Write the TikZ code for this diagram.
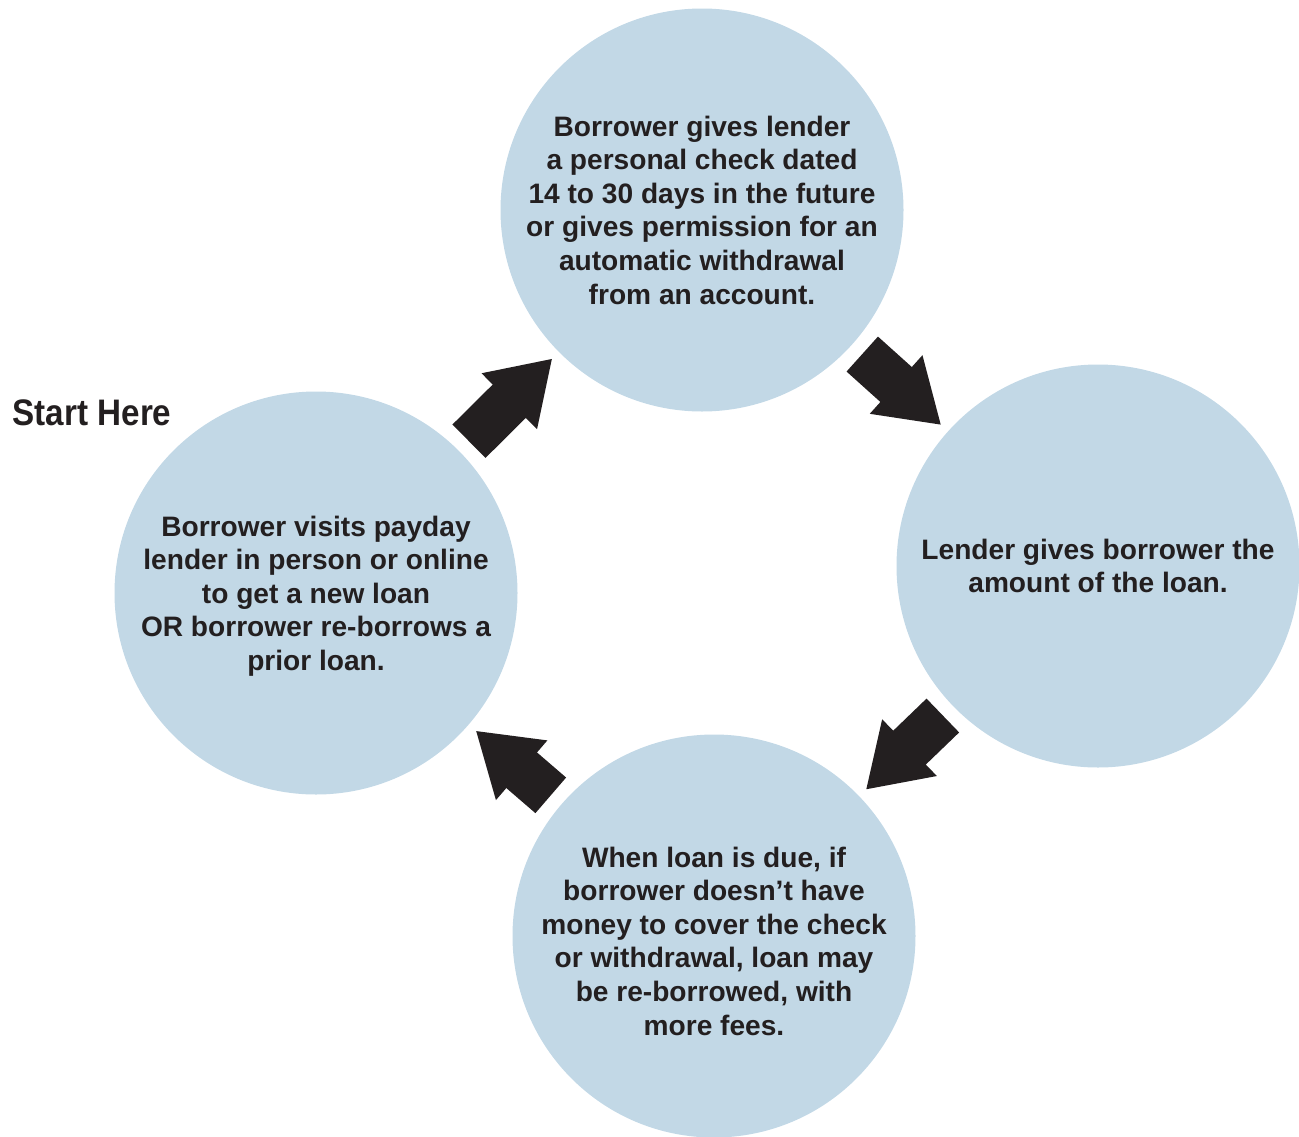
\documentclass[tikz,border=0pt]{standalone}
\usepackage{fontspec}
\setmainfont{Liberation Sans}
\newfontfamily\narrowfont[FakeStretch=0.9]{Liberation Sans}
\usepackage{tikz}
\usetikzlibrary{arrows.meta,positioning}
\definecolor{loanblue}{RGB}{194,216,230}
\definecolor{ink}{RGB}{35,31,32}

\begin{document}
\begin{tikzpicture}
	\tikzstyle{stage}=[circle, fill=loanblue, minimum size=4.03cm, inner sep=0pt, outer sep=0pt]
	\tikzstyle{txt}=[align=center, text=ink, font=\fontsize{8}{9.56}\selectfont\bfseries]
	\tikzstyle{blockarrow}=[draw=ink, line width=0.47cm, -{Triangle[width=0.78cm,length=0.6cm,line width=1pt]}, shorten <=0.14cm, shorten >=0.1cm]

	\useasboundingbox (0,0) rectangle (12.99,11.36);

	\node[stage] (visit) at (3.16,5.43) {};
	\node[stage] (check) at (7.02,9.26) {};
	\node[stage] (cash) at (10.98,5.70) {};
	\node[stage] (due) at (7.14,2.00) {};

	\node[txt] (visit_t) at ([yshift=-0.03cm]visit) {Borrower visits payday\\ lender in person or online\\ to get a new loan\\ OR borrower re-borrows a\\ prior loan.};
	\node[txt] (check_t) at (check) {Borrower gives lender\\ a personal check dated\\ 14 to 30 days in the future\\ or gives permission for an\\ automatic withdrawal\\ from an account.};
	\node[txt] (cash_t) at (cash) {Lender gives borrower the\\ amount of the loan.};
	\node[txt] (due_t) at ([yshift=-0.05cm]due) {When loan is due, if\\ borrower doesn’t have\\ money to cover the check\\ or withdrawal, loan may\\ be re-borrowed, with\\ more fees.};
	\node[anchor=west, inner sep=0pt, text=ink, font=\narrowfont\fontsize{10.5}{12}\selectfont\bfseries] (start) at (0.12,7.23) {Start Here};

	\draw[blockarrow] (visit) -- (check);
	\draw[blockarrow] (check) -- (cash);
	\draw[blockarrow] (cash) -- (due);
	\draw[blockarrow] (due) -- (visit);
\end{tikzpicture}
\end{document}
